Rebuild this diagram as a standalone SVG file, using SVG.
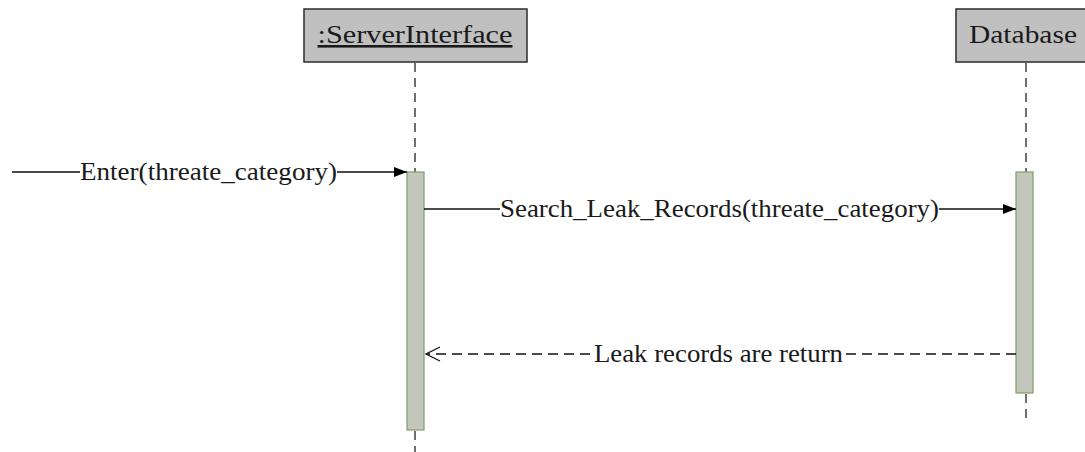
<svg xmlns="http://www.w3.org/2000/svg" width="1085" height="452" viewBox="0 0 1085 452">
<style>
.box{fill:#c0c0c0;stroke:#2b2b2b;stroke-width:1.5}
.lbl{font-family:"Liberation Serif",serif;font-size:26px;fill:#1a1a1a}
.life{stroke:#222;stroke-width:1.3;stroke-dasharray:9,6;fill:none}
.act{fill:#c3c6bd;stroke:#7f9e66;stroke-width:1.2}
.msg{stroke:#111;stroke-width:1.3;fill:none}
.ret{stroke:#111;stroke-width:1.3;fill:none;stroke-dasharray:10,6}
</style>
<defs>
<marker id="filled" markerWidth="14" markerHeight="12" refX="13" refY="6" orient="auto" markerUnits="userSpaceOnUse">
<path d="M0,1 L13,6 L0,11 Z" fill="#000"/>
</marker>
<marker id="open" markerWidth="16" markerHeight="18" refX="15" refY="9" orient="auto" markerUnits="userSpaceOnUse">
<path d="M1,2 L15,9 L1,16" fill="none" stroke="#111" stroke-width="1.3"/>
</marker>
</defs>
<rect width="1085" height="452" fill="#fff"/>
<g id="serverinterface">
<rect class="box" x="304" y="9" width="223" height="53"/>
<text class="lbl" x="415" y="43" text-anchor="middle" textLength="195" lengthAdjust="spacingAndGlyphs" text-decoration="underline">:ServerInterface</text>
<line class="life" x1="415" y1="63" x2="415" y2="172"/>
<line class="life" x1="415" y1="431" x2="415" y2="452"/>
<rect class="act" x="407" y="172" width="17" height="258"/>
</g>
<g id="database">
<rect class="box" x="956" y="9" width="140" height="53"/>
<text class="lbl" x="1023" y="43" text-anchor="middle" textLength="108" lengthAdjust="spacingAndGlyphs">Database</text>
<line class="life" x1="1026" y1="63" x2="1026" y2="172"/>
<line class="life" x1="1026" y1="394" x2="1026" y2="418"/>
<rect class="act" x="1016" y="172" width="17" height="221"/>
</g>
<g id="connectors">
<line class="msg" x1="12" y1="172" x2="80" y2="172"/>
<line class="msg" x1="337" y1="172" x2="407" y2="172" marker-end="url(#filled)"/>
<text class="lbl" x="80" y="180" textLength="257" lengthAdjust="spacingAndGlyphs">Enter(threate_category)</text>
<line class="msg" x1="424" y1="209" x2="500" y2="209"/>
<line class="msg" x1="939" y1="209" x2="1016" y2="209" marker-end="url(#filled)"/>
<text class="lbl" x="500" y="217" textLength="439" lengthAdjust="spacingAndGlyphs">Search_Leak_Records(threate_category)</text>
<line class="ret" x1="1016" y1="354" x2="843" y2="354"/>
<line class="ret" x1="590" y1="354" x2="426" y2="354" marker-end="url(#open)"/>
<text class="lbl" x="594" y="362" textLength="249" lengthAdjust="spacingAndGlyphs">Leak records are return</text>
</g>
</svg>
